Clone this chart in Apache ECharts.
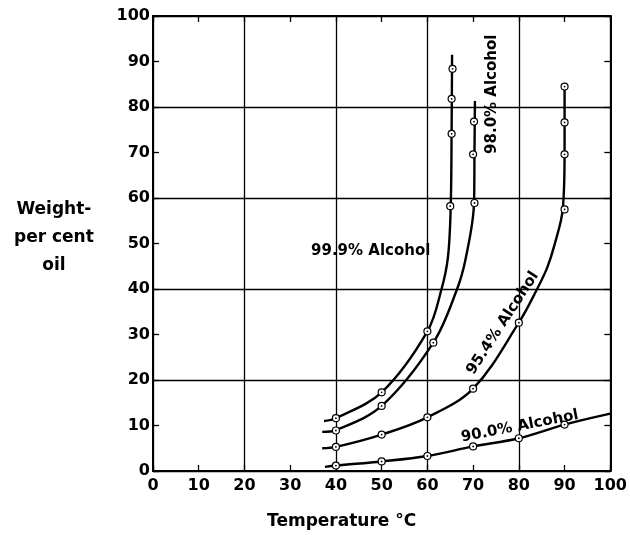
<!DOCTYPE html>
<html lang="en">
<head>
<meta charset="UTF-8">
<title>Weight-per cent oil</title>
<script src="https://cdn.jsdelivr.net/npm/echarts@6/dist/echarts.min.js"></script>
<style>
  html, body { margin: 0; padding: 0; background: #fff; }
  #chart { width: 630px; height: 535px; }
</style>
</head>
<body>
<div id="chart"></div>
<script>
  // measured points: [temperature °C, weight-per cent oil]
  const pts999 = [[40, 11.6], [50, 17.3], [60, 30.7], [65, 58.2], [65.3, 74.1], [65.3, 81.8], [65.5, 88.4]];
  const pts980 = [[40, 8.9], [50, 14.3], [61.3, 28.2], [70.3, 58.9], [70, 69.6], [70.2, 76.8]];
  const pts954 = [[40, 5.3], [50, 8.0], [60, 11.8], [70, 18.1], [80, 32.6], [90, 57.5], [90, 69.6], [90, 76.6], [90, 84.5]];
  const pts900 = [[40, 1.2], [50, 2.1], [60, 3.3], [70, 5.4], [80, 7.2], [90, 10.2]];

  // drawn curves, read along the lines of the figure
  const curve999 = [[37.4, 11.0], [40, 11.6], [50, 17.3], [60, 30.7], [63.1, 40], [64.5, 47], [65.1, 58], [65.3, 75], [65.4, 91.5]];
  const curve980 = [[37, 8.6], [40, 9.0], [50, 14.3], [61.3, 28.2], [66.5, 40], [68.4, 46.8], [70.2, 58.9], [70.3, 70], [70.4, 81.3]];
  const curve954 = [[37, 5.0], [40, 5.3], [50, 8.0], [60, 11.8], [70, 18.1], [80, 32.6], [84, 40], [86.2, 44.7], [87.8, 49.7], [89.6, 57.5], [90, 70], [90, 85]];
  const curve900 = [[37.6, 0.9], [40, 1.2], [50, 2.1], [60, 3.3], [70, 5.4], [80, 7.2], [90, 10.2], [100, 12.6]];

  // curve labels: text, position, rotation
  const labelNames = ['99.9% Alcohol', '98.0% Alcohol', '95.4% Alcohol', '90.0% Alcohol'];
  const labelPos = [[47.6, 48.4], [74.1, 82.8], [76.5, 32.5], [80.2, 9.8]];
  const labelRot = [0, 90, 57, 11];

  const xTicks = [0, 100, 10];
  const yTicks = [0, 100, 10];

  const ink = '#000';
  const font = 'DejaVu Sans';

  const chart = echarts.init(document.getElementById('chart'), null, { renderer: 'canvas' });

  const baseAxis = {
    type: 'value',
    min: xTicks[0],
    max: xTicks[1],
    interval: xTicks[2],
    axisLine: { show: true, onZero: false, lineStyle: { color: ink, width: 2 } },
    axisTick: { show: true, inside: true, length: 6, lineStyle: { color: ink, width: 1.3 } },
    splitLine: { show: false }
  };

  function curve(data) {
    return {
      type: 'line',
      data: data,
      smooth: 0.35,
      showSymbol: false,
      silent: true,
      lineStyle: { color: ink, width: 2.4 },
      z: 3
    };
  }
  function rings(data) {
    return {
      type: 'scatter',
      data: data,
      symbol: 'circle',
      symbolSize: 7,
      itemStyle: { color: '#fff', borderColor: ink, borderWidth: 1.2, opacity: 1 },
      z: 4
    };
  }
  function dots(data) {
    return {
      type: 'scatter',
      data: data,
      symbol: 'circle',
      symbolSize: 1.8,
      itemStyle: { color: ink, opacity: 1 },
      z: 5
    };
  }

  const series = [];
  [[curve999, pts999], [curve980, pts980], [curve954, pts954], [curve900, pts900]].forEach(function (p) {
    series.push(curve(p[0]), rings(p[1]), dots(p[1]));
  });
  series.push({
    type: 'scatter',
    symbolSize: 0,
    silent: true,
    z: 6,
    itemStyle: { color: ink, opacity: 1 },
    data: labelNames.map(function (n, i) {
      return {
        name: n,
        value: labelPos[i],
        label: { rotate: labelRot[i] }
      };
    }),
    label: {
      show: true,
      position: 'inside',
      formatter: '{b}',
      color: ink,
      textBorderWidth: 0,
      fontFamily: font,
      fontWeight: 'bold',
      fontSize: 15
    }
  });

  chart.setOption({
    animation: false,
    backgroundColor: '#fff',
    grid: { left: 153, right: 19, top: 16, bottom: 60 },
    xAxis: [
      Object.assign({}, baseAxis, {
        position: 'bottom',
        name: 'Temperature °C',
        nameLocation: 'middle',
        nameGap: 42,
        nameTextStyle: { color: ink, fontFamily: font, fontWeight: 'bold', fontSize: 17, padding: [0, 80, 0, 0] },
        axisLabel: { color: ink, fontFamily: font, fontWeight: 'bold', fontSize: 16, margin: 7 },
        splitLine: { show: true, lineStyle: { color: [ink, 'rgba(0,0,0,0)'], width: 1.3 } }
      }),
      Object.assign({}, baseAxis, { position: 'top', axisLabel: { show: false } })
    ],
    yAxis: [
      Object.assign({}, baseAxis, {
        position: 'left',
        min: yTicks[0], max: yTicks[1], interval: yTicks[2],
        axisLabel: { color: ink, fontFamily: font, fontWeight: 'bold', fontSize: 16, margin: 3 },
        splitLine: { show: true, lineStyle: { color: [ink, 'rgba(0,0,0,0)'], width: 1.3 } }
      }),
      Object.assign({}, baseAxis, {
        position: 'right',
        min: yTicks[0], max: yTicks[1], interval: yTicks[2],
        axisLabel: { show: false }
      })
    ],
    graphic: [{
      type: 'text',
      left: 14,
      top: 196,
      style: {
        text: 'Weight-\nper cent\noil',
        textAlign: 'center',
        fill: ink,
        font: 'bold 17px "DejaVu Sans"',
        lineHeight: 28
      },
      x: 42
    }],
    series: series
  });
</script>
</body>
</html>
